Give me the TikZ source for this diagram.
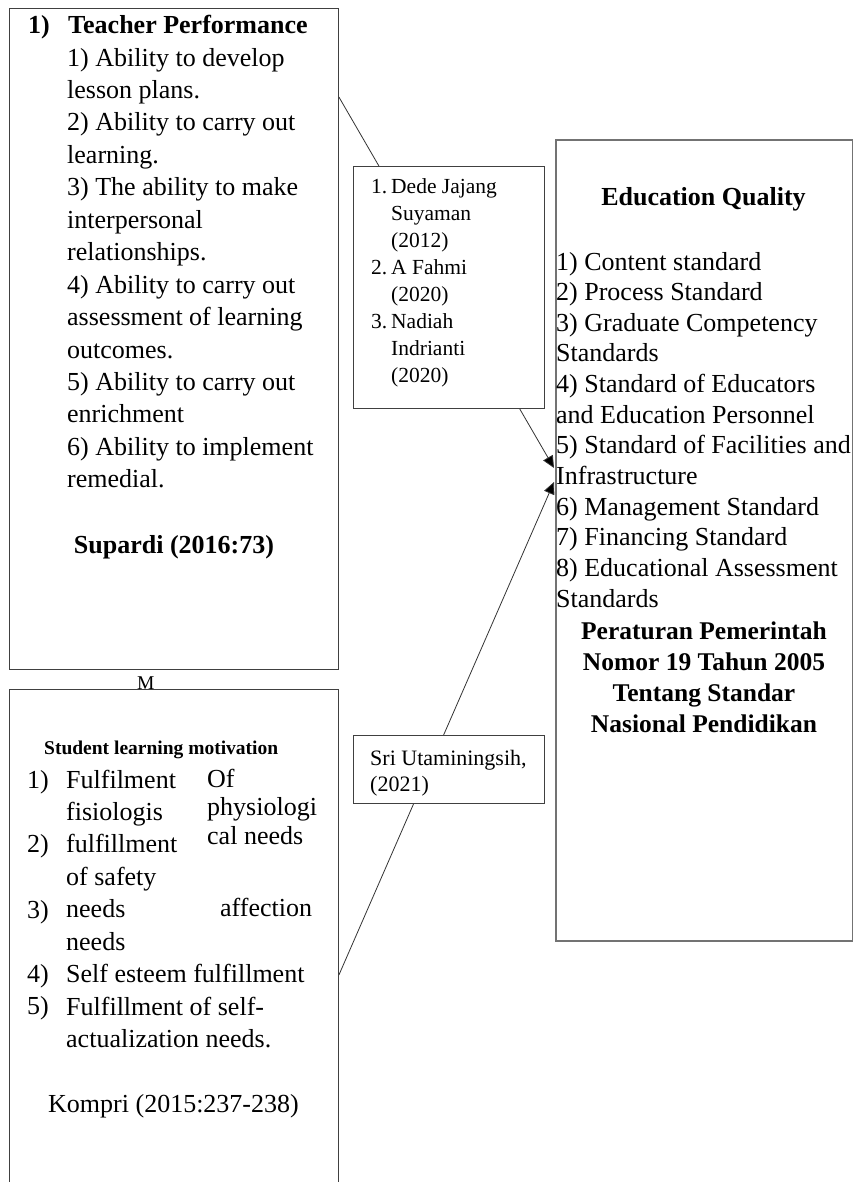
\documentclass[tikz,border=0pt]{standalone}
\usepackage{fontspec}
\setmainfont{Liberation Serif}
\usetikzlibrary{arrows.meta,calc,backgrounds}
\newcommand\fsBody{\fontsize{26bp}{32.45bp}\selectfont}
\newcommand\fsEdu{\fontsize{26bp}{30.64bp}\selectfont}
\newcommand\fsRef{\fontsize{21.5bp}{27.1bp}\selectfont}
\newcommand\fsSri{\fontsize{22bp}{26.5bp}\selectfont}
\newcommand\fsReg{\fontsize{25.5bp}{31.3bp}\selectfont\bfseries}
\tikzset{
  box/.style={draw=black!75, line width=0.9bp, fill=white, rectangle, inner sep=0pt, anchor=north west},
  eqbox/.style={box, draw=black!55, line width=1.6bp},
  txt/.style={inner sep=0pt, anchor=base west},
  ctxt/.style={inner sep=0pt, anchor=base},
  link/.style={draw=black!80, line width=0.8bp, -{Triangle[length=12bp,width=11bp,fill=black]}},
}
\begin{document}
\begin{tikzpicture}[x=1bp,y=-1bp]
\useasboundingbox (0,0) rectangle (853,1182);
\clip (0,0) rectangle (853,1182);
% boxes
\node[box, minimum width=329bp, minimum height=661bp] (A) at (9,8) {};
\node[box, minimum width=329bp, minimum height=520bp] (B) at (9,689) {};
\node[box, minimum width=191bp, minimum height=242bp] (C) at (353,166) {};
\node[box, minimum width=191bp, minimum height=68bp] (E) at (353,735) {};
\node[eqbox, minimum width=297bp, minimum height=801bp] (D) at (555,139) {};
% connectors
\coordinate (Aout) at ($(A.north east)+(0,89)$);
\coordinate (Bout) at ($(B.north east)+(0,286)$);
\coordinate (Din1) at ($(D.north west)+(-1,329)$);
\coordinate (Din2) at ($(D.north west)+(-1,343)$);
\begin{pgfonlayer}{background}
\draw[link] (Aout) -- (Din1);
\draw[link] (Bout) -- (Din2);
\end{pgfonlayer}
% Teacher performance
\node[txt] (Anum) at (28,33) {\fsBody\bfseries 1)};
\node[txt] (Ahead) at (68,33) {\fsBody\bfseries Teacher Performance};
\node[txt] (Alist) at (67,66) {\parbox[t]{270bp}{\raggedright\fsBody
1) Ability to develop\\
lesson plans.\\
2) Ability to carry out\\
learning.\\
3) The ability to make\\
interpersonal\\
relationships.\\
4) Ability to carry out\\
assessment of learning\\
outcomes.\\
5) Ability to carry out\\
enrichment\\
6) Ability to implement\\
remedial.}};
\node[ctxt] (Asrc) at (174,553) {\fsBody\bfseries Supardi (2016:73)};
% references box C
\node[txt] (Cn1) at (371,193) {\fsRef 1.};
\node[txt] (Cn2) at (371,274) {\fsRef 2.};
\node[txt] (Cn3) at (371,328) {\fsRef 3.};
\node[txt] (Clist) at (391,193) {\parbox[t]{150bp}{\raggedright\fsRef
Dede Jajang\\
Suyaman\\
(2012)\\
A Fahmi\\
(2020)\\
Nadiah\\
Indrianti\\
(2020)}};
% Education quality
\node[ctxt] (Dhead) at (703.5,205) {\fsBody\bfseries Education Quality};
\node[txt] (Dlist) at (556,270) {\parbox[t]{300bp}{\raggedright\fsEdu
1) Content standard\\
2) Process Standard\\
3) Graduate Competency\\
Standards\\
4) Standard of Educators\\
and Education Personnel\\
5) Standard of Facilities and\\
Infrastructure\\
6) Management Standard\\
7) Financing Standard\\
8) Educational Assessment\\
Standards}};
\node[ctxt] (Dsrc) at (704,639) {\parbox[t]{297bp}{\centering\fsReg
Peraturan Pemerintah\\
Nomor 19 Tahun 2005\\
Tentang Standar\\
Nasional Pendidikan}};
% Student learning motivation
\node[txt] (M) at (137,689) {\fontsize{19.5bp}{22bp}\selectfont M};
\node[txt] (Bhead) at (44,754) {\fontsize{19.5bp}{22bp}\selectfont\bfseries Student learning motivation};
\node[txt] (Bn1) at (27,788) {\fsBody 1)};
\node[txt] (Bn2) at (27,852) {\fsBody 2)};
\node[txt] (Bn3) at (27,918) {\fsBody 3)};
\node[txt] (Bn4) at (27,982) {\fsBody 4)};
\node[txt] (Bn5) at (27,1014) {\fsBody 5)};
\node[txt] (Blist) at (66,788) {\parbox[t]{270bp}{\raggedright\fsBody
Fulfilment\\
fisiologis\\
fulfillment\\
of safety\\
needs\\
needs\\
Self esteem fulfillment\\
Fulfillment of self-\\
actualization needs.}};
\node[txt] (Bright) at (207,787) {\parbox[t]{120bp}{\raggedright\fontsize{26bp}{28.5bp}\selectfont
Of\\
physiologi\\
cal needs}};
\node[txt] (Baff) at (220,916) {\fsBody affection};
\node[ctxt] (Bsrc) at (173.5,1112) {\fsBody Kompri (2015:237-238)};
% Sri Utaminingsih
\node[txt] (Etext) at (370,765) {\parbox[t]{170bp}{\raggedright\fsSri
Sri Utaminingsih,\\
(2021)}};
\end{tikzpicture}
\end{document}
